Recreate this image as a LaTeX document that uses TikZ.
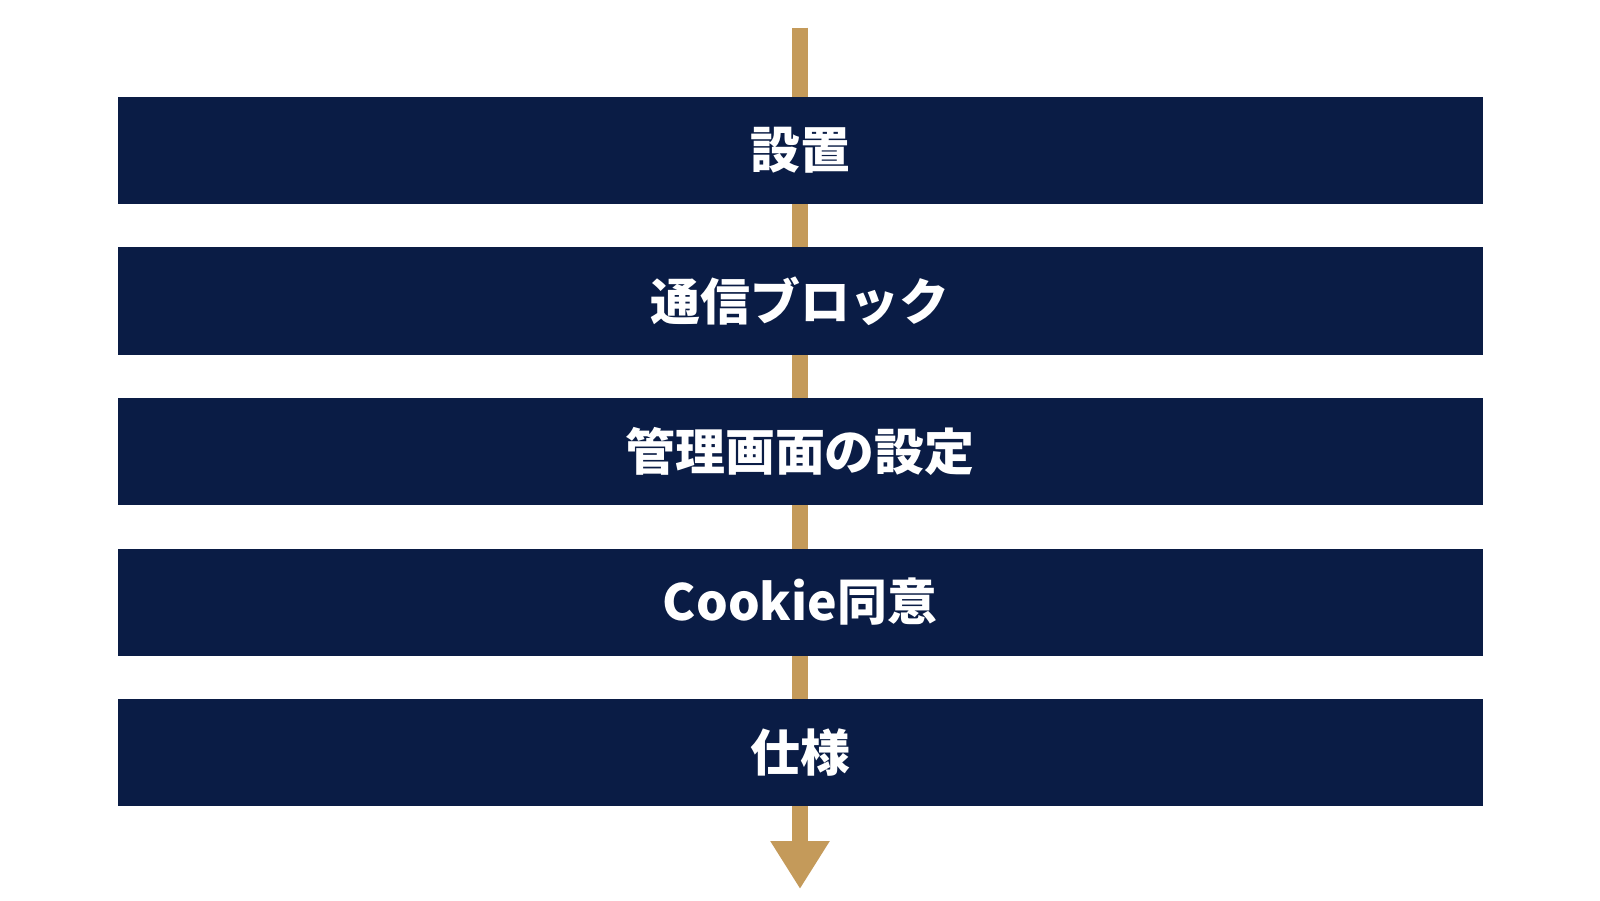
\documentclass[tikz,border=0pt]{standalone}
\usepackage{fontspec}
\newfontfamily\jpfont{Noto Sans CJK JP}
\usetikzlibrary{arrows.meta}
\definecolor{navy}{HTML}{0A1C45}
\definecolor{gold}{HTML}{C49A5A}
\tikzset{
  stage/.style={fill=navy, text=white, minimum width=13.65cm, minimum height=1.07cm, inner sep=0pt,
    font=\jpfont\bfseries\fontsize{14.2}{17}\selectfont},
  spine/.style={gold, line width=0.16cm, -{Triangle[width=0.56cm, length=0.48cm]}}
}
\begin{document}
\begin{tikzpicture}
\useasboundingbox[fill=white] (0,0) rectangle (16,9);
\coordinate (start) at (8,8.724);
\coordinate (finish) at (8,0.11);
\draw[spine] (start) -- (finish);
\node[stage] (setup) at (8,7.495) {設置};
\node[stage] (block) at (8,5.99) {通信ブロック};
\node[stage] (admin) at (8,4.485) {管理画面の設定};
\node[stage] (cookie) at (8,2.98) {Cookie同意};
\node[stage] (spec) at (8,1.475) {仕様};
\end{tikzpicture}
\end{document}
